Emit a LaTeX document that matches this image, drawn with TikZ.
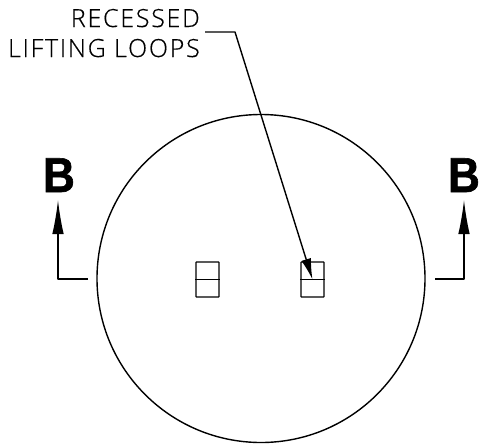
\documentclass[tikz,border=0pt]{standalone}
\usepackage{fontspec}
\setmainfont{Liberation Sans}
\newfontfamily\cadfont[LetterSpace=7,FakeBold=0.4]{Open Sans Light}
\newfontfamily\secfont[FakeBold=1.2,FakeStretch=0.9]{Liberation Sans Bold}
\usetikzlibrary{arrows.meta}
\tikzset{
  x=1pt,y=-1pt,
  cadline/.style={line width=1.4pt,line join=round},
  loopbox/.style={draw,line width=1.4pt,minimum width=23pt,minimum height=35pt,inner sep=0pt,rounded corners=0.5pt},
  cadlabel/.style={inner sep=0pt,anchor=base east,font=\cadfont\fontsize{25}{25}\selectfont},
  seclabel/.style={inner sep=0pt,anchor=base,font=\secfont\fontsize{49}{49}\selectfont},
  headtip/.style={-{Latex[length=34pt,width=11.5pt]}},
  smalltip/.style={-{Latex[length=21pt,width=10pt]}}
}
\begin{document}
\begin{tikzpicture}
\useasboundingbox (0,0) rectangle (480,445);
\node[draw,circle,cadline,minimum size=328pt,inner sep=0pt] (disc) at (261,278.5) {};
\node[loopbox] (loopL) at (207.5,279.5) {};
\node[loopbox] (loopR) at (312.5,279.5) {};
\draw[cadline] (loopL.west) -- (loopL.east);
\draw[cadline] (loopR.west) -- (loopR.east);
\node[cadlabel] (recessed) at (200,27) {RECESSED};
\node[cadlabel] (lifting) at (200,57) {LIFTING LOOPS};
\coordinate (knee) at (235,32);
\coordinate (kneeStart) at (205,32);
\draw[cadline,smalltip] (kneeStart) -- (knee) -- (loopR.center);
\node[seclabel] (bL) at (59,192) {B};
\node[seclabel] (bR) at (464,192) {B};
\coordinate (legL) at (88,279);
\coordinate (cornerL) at (58,279);
\coordinate (tipL) at (58,200);
\coordinate (legR) at (435,279);
\coordinate (cornerR) at (464,279);
\coordinate (tipR) at (464,200);
\draw[cadline,headtip] (legL) -- (cornerL) -- (tipL);
\draw[cadline,headtip] (legR) -- (cornerR) -- (tipR);
\end{tikzpicture}
\end{document}
